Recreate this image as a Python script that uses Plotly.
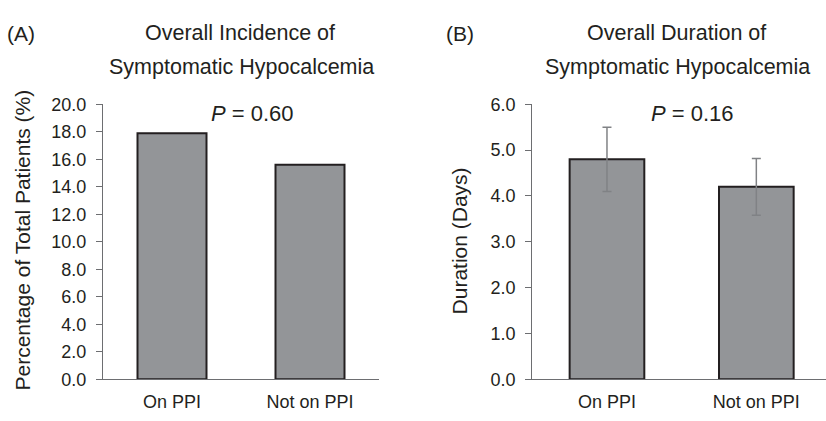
import plotly.graph_objects as go

categories = ["On PPI", "Not on PPI"]
incidence_pct = [17.9, 15.6]
duration_days = [4.8, 4.2]
duration_err = [0.7, 0.62]
incidence_ticks = [0, 2, 4, 6, 8, 10, 12, 14, 16, 18, 20]
duration_ticks = [0, 1, 2, 3, 4, 5, 6]

W, H = 826, 421
FONT = "Arial, Liberation Sans, Helvetica, sans-serif"
TXT = "#231f20"
AX = "#6d6e71"
BAR = "#939598"

def px(x):
    return x / W

def py(y):
    return 1 - y / H

fig = go.Figure()
fig.add_trace(go.Bar(x=categories, y=incidence_pct, width=0.5,
                     marker=dict(color=BAR, line=dict(color=TXT, width=2)),
                     xaxis="x", yaxis="y", showlegend=False))
fig.add_trace(go.Bar(x=categories, y=duration_days, width=0.5,
                     marker=dict(color=BAR, line=dict(color=TXT, width=2)),
                     error_y=dict(type="data", array=duration_err, color="#808285",
                                  thickness=1.5, width=4.5),
                     xaxis="x2", yaxis="y2", showlegend=False))

ydom = [33.3 / H, 1 - 99 / H]
common_y = dict(showline=True, linecolor=AX, linewidth=1.3, ticks="outside",
                ticklen=6, tickcolor=AX, tickwidth=1.3, tickformat=".1f",
                ticklabelstandoff=6,
                showgrid=False, zeroline=False, domain=ydom,
                tickfont=dict(size=18, color=TXT, family=FONT))
common_x = dict(showline=True, linecolor=AX, linewidth=1.3, ticks="outside",
                ticklen=6, tickcolor="rgba(0,0,0,0)", showgrid=False,
                type="category", tickfont=dict(size=18, color=TXT, family=FONT))

fig.update_layout(
    width=W, height=H, margin=dict(l=0, r=0, t=0, b=0),
    paper_bgcolor="white", plot_bgcolor="white",
    font=dict(family=FONT, color=TXT),
    xaxis=dict(domain=[px(103), px(379)], range=[-0.5, 1.5], anchor="y", **common_x),
    yaxis=dict(range=[0, 20], tickvals=incidence_ticks, anchor="x", **common_y),
    xaxis2=dict(domain=[px(532.3), 1], range=[-0.5, 1.5 - 5 / 149.3], anchor="y2", **common_x),
    yaxis2=dict(range=[0, 6], tickvals=duration_ticks, anchor="x2", **common_y),
)

def ann(text, x, y, size, angle=0, xanchor="center"):
    fig.add_annotation(text=text, x=px(x), y=py(y), xref="paper", yref="paper",
                       xanchor=xanchor, yanchor="middle", showarrow=False,
                       textangle=angle, font=dict(size=size, color=TXT, family=FONT))

ann("(A)", 5, 25, 21, xanchor="left")
ann("(B)", 444, 25, 21, xanchor="left")
ann("Overall Incidence of", 240, 24, 21.5)
ann("Symptomatic Hypocalcemia", 241, 60, 21.5)
ann("Overall Duration of", 676, 24, 21.5)
ann("Symptomatic Hypocalcemia", 677, 60, 21.5)
ann("<i>P</i> = 0.60", 253, 109, 22)
ann("<i>P</i> = 0.16", 692, 109, 22)
ann("Percentage of Total Patients (%)", 23, 242, 21, angle=-90)
ann("Duration (Days)", 459, 243, 21, angle=-90)

page_css = ("var s=document.createElement('style');"
            "s.textContent='html,body{margin:0;padding:0;overflow:hidden;height:421px;width:826px;}';"
            "document.head.appendChild(s);")
fig.write_html("out.html", config={"displayModeBar": False}, post_script=page_css)
